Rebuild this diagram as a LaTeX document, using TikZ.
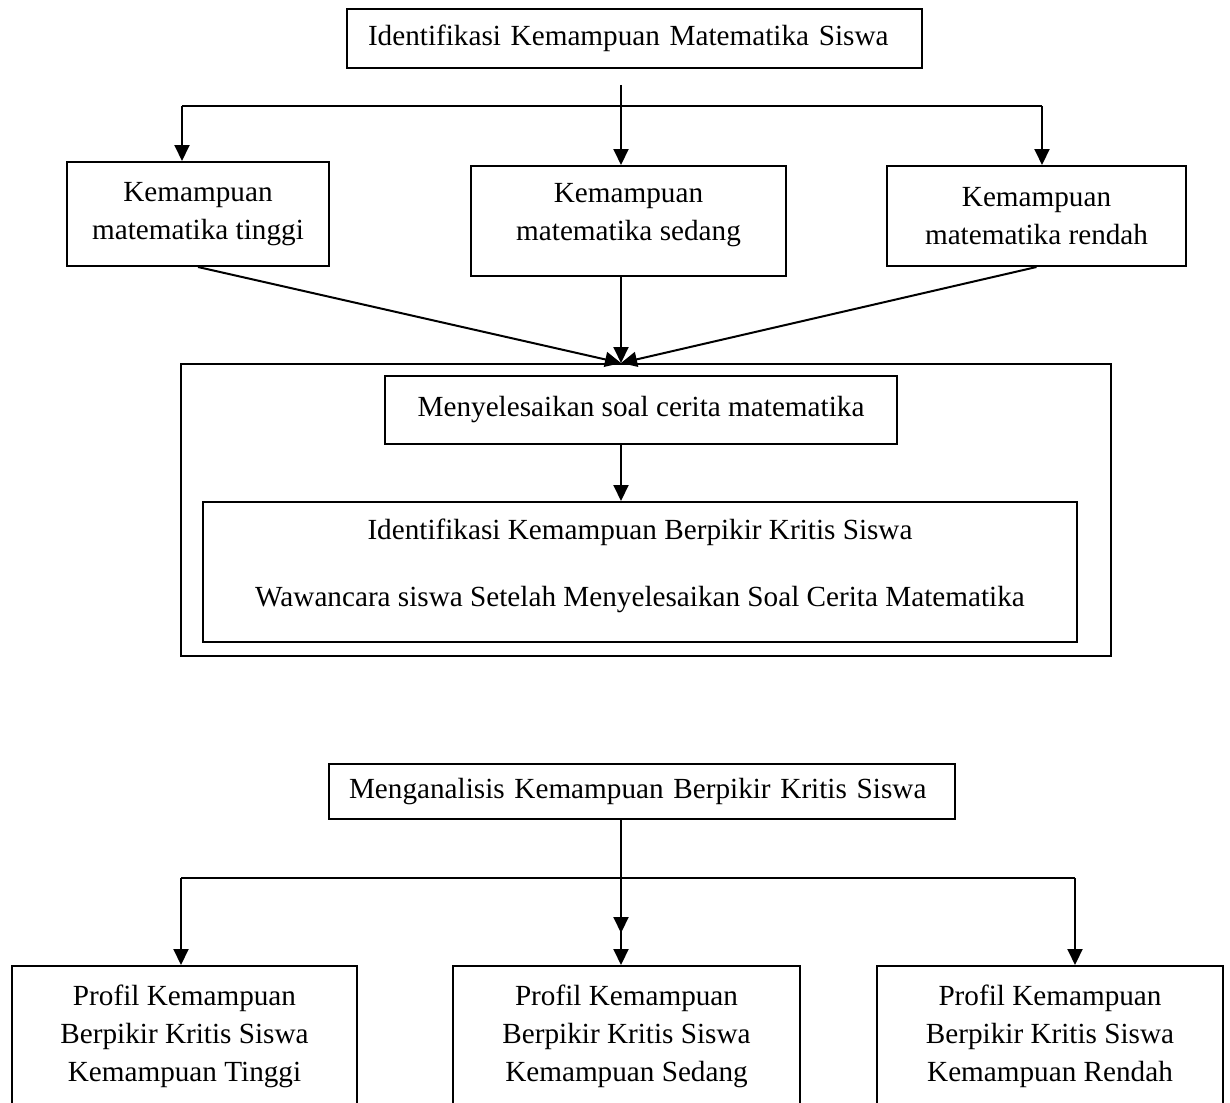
\documentclass[tikz,border=0pt]{standalone}
\usepackage{fontspec}
\setmainfont{Liberation Serif}
\usetikzlibrary{arrows.meta,positioning}

\begin{document}
\begin{tikzpicture}[x=0.5pt,y=-0.5pt]
    % alur: identifikasi -> kelompok kemampuan -> soal & wawancara -> analisis -> profil
    \tikzset{box/.style = {shape=rectangle,draw,line width=1pt,inner sep=0pt,align=center,
        font=\fontsize{14.6pt}{19pt}\selectfont}}
    \tikzset{pre/.style = {line width=1pt,-{Triangle[length=8pt,width=7.5pt]}}}
    \tikzset{line/.style = {line width=1pt}}

    \useasboundingbox (0,0) rectangle (1230,1102);

    % identifikasi kemampuan matematika
    \node[box,text width=266.5pt,inner xsep=10.5pt,align=left,minimum height=29.5pt] (idkm) at (634.5,38.5)
        {Identifikasi Kemampuan Matematika Siswa};
    \coordinate (split1) at (621,85);
    \coordinate (hl) at (182,106);
    \coordinate (hr) at (1042,106);

    % kelompok kemampuan
    \node[box,minimum width=131pt,minimum height=52pt] (tinggi) at (198,214)
        {Kemampuan\\matematika tinggi};
    \node[box,minimum width=157.5pt,minimum height=55pt,text depth=9pt] (sedang) at (628.5,221)
        {Kemampuan\\matematika sedang};
    \node[box,minimum width=149.5pt,minimum height=50pt] (rendah) at (1036.5,216)
        {Kemampuan\\matematika rendah};

    \draw[pre] (split1) -- (split1 |- sedang.north);
    \draw[line] (hl) -- (hr);
    \draw[pre] (hl) -- (hl |- tinggi.north);
    \draw[pre] (hr) -- (hr |- rendah.north);

    % soal cerita dan wawancara
    \node[box,minimum width=465pt,minimum height=146pt] (kegiatan) at (646,510) {};
    \node[box,minimum width=256pt,minimum height=34pt] (soal) at (641,410)
        {Menyelesaikan soal cerita matematika};
    \node[box,minimum width=437pt,minimum height=70pt,text depth=9.5pt] (wawancara) at (640,572)
        {Identifikasi Kemampuan Berpikir Kritis Siswa\\[14.5pt]Wawancara siswa Setelah Menyelesaikan Soal Cerita Matematika};

    \coordinate (meet) at (split1 |- kegiatan.north);
    \draw[pre] (tinggi.south) -- (meet);
    \draw[pre] (sedang.south -| meet) -- (meet);
    \draw[pre] (rendah.south) -- (meet);
    \draw[pre] (soal.south -| meet) -- (wawancara.north -| meet);

    % analisis
    \node[box,text width=293pt,inner xsep=10pt,align=left,minimum height=27.5pt] (analisis) at (642,791.5)
        {Menganalisis Kemampuan Berpikir Kritis Siswa};
    \coordinate (split2) at (621,878);
    \coordinate (bl) at (181,878);
    \coordinate (br) at (1075,878);
    \coordinate (tip2) at (621,933);

    % profil
    \node[box,minimum width=172.5pt,minimum height=70pt] (proftinggi) at (184.5,1036)
        {Profil Kemampuan\\Berpikir Kritis Siswa\\Kemampuan Tinggi};
    \node[box,minimum width=173.5pt,minimum height=70pt] (profsedang) at (626.5,1036)
        {Profil Kemampuan\\Berpikir Kritis Siswa\\Kemampuan Sedang};
    \node[box,minimum width=173pt,minimum height=70pt] (profrendah) at (1050,1036)
        {Profil Kemampuan\\Berpikir Kritis Siswa\\Kemampuan Rendah};

    \draw[pre] (analisis.south -| split2) -- (tip2);
    \draw[line] (bl) -- (br);
    \draw[pre] (bl) -- (bl |- proftinggi.north);
    \draw[pre] (split2) -- (split2 |- profsedang.north);
    \draw[pre] (br) -- (br |- profrendah.north);
\end{tikzpicture}
\end{document}
